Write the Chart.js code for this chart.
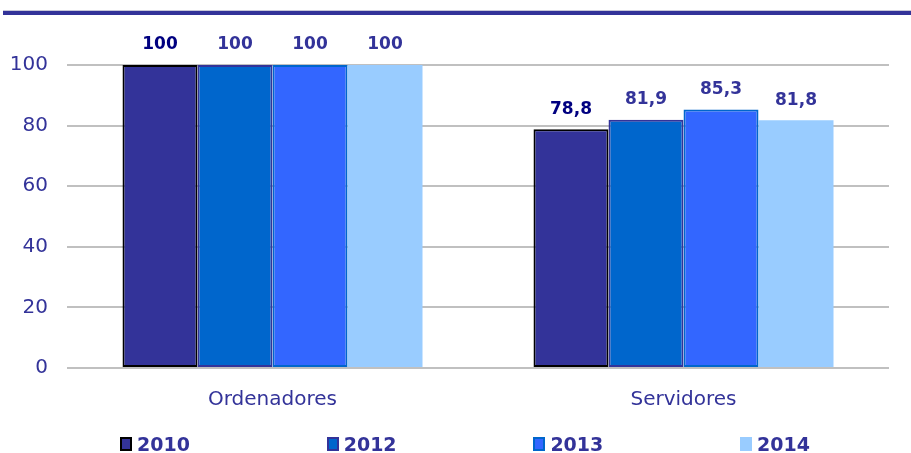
<!DOCTYPE html>
<html>
<head>
<meta charset="utf-8">
<script src="https://cdn.jsdelivr.net/npm/chart.js@4/dist/chart.umd.min.js"></script>
<style>
  body { margin: 0; background: #fff; }
  #wrap { position: relative; width: 911px; height: 453px; }
  #topline { position: absolute; left: 3px; right: 0; top: 10px; height: 4px; background: #333399; border-top: 1px solid #c8c8d8; }
  #legend { position: absolute; left: 0; top: 433px; width: 911px; height: 20px; }
  .item { position: absolute; top: 0; display: flex; align-items: center; font: bold 19px "DejaVu Sans", sans-serif; color: #333399; }
  .box { width: 12px; height: 14px; margin-right: 5px; box-sizing: border-box; border: 2px solid; }
</style>
</head>
<body>
<div id="wrap">
  <div id="topline"></div>
  <canvas id="chart" width="911" height="453"></canvas>
  <div id="legend"></div>
</div>
<script>
const categories = ['Ordenadores', 'Servidores']
const years = ['2010', '2012', '2013', '2014']
const v2010 = [100, 78.8]
const v2012 = [100, 81.9]
const v2013 = [100, 85.3]
const v2014 = [100, 81.8]
const yTicks = [0, 20, 40, 60, 80, 100]

const fills = ['#333399', '#0066CC', '#3366FF', '#99CCFF']
const borders = ['#000000', '#333399', '#0066CC', '#99CCFF']
const labelColors = ['#000080', '#333399', '#333399', '#333399']
const series = [v2010, v2012, v2013, v2014]
const font = '"DejaVu Sans", sans-serif'

const valueLabels = {
    id: 'valueLabels',
    afterDatasetsDraw(chart) {
        const ctx = chart.ctx
        ctx.save()
        ctx.font = 'bold 17px ' + font
        ctx.textAlign = 'center'
        ctx.textBaseline = 'middle'
        chart.data.datasets.forEach((ds, i) => {
            chart.getDatasetMeta(i).data.forEach((bar, j) => {
                ctx.fillStyle = labelColors[i]
                ctx.fillText(String(ds.data[j]).replace('.', ','), bar.x, bar.y - 20)
            })
        })
        ctx.restore()
    }
}

new Chart(document.getElementById('chart'), {
    type: 'bar',
    data: {
        labels: categories,
        datasets: years.map((y, i) => ({
            label: y,
            data: series[i],
            backgroundColor: fills[i],
            borderColor: borders[i],
            borderWidth: i === 3 ? 0 : 2,
            borderSkipped: false,
            barPercentage: 1,
            categoryPercentage: 0.73
        }))
    },
    options: {
        responsive: false,
        animation: false,
        layout: { padding: { top: 65, right: 22, bottom: 25, left: 0 } },
        plugins: { legend: { display: false }, tooltip: { enabled: false } },
        scales: {
            x: {
                grid: { display: false, drawTicks: false },
                border: { display: false },
                ticks: { color: '#333399', font: { family: font, size: 20 }, padding: 20 },
                afterFit: s => { s.height = 60 }
            },
            y: {
                min: 0,
                max: 100,
                afterBuildTicks: s => { s.ticks = yTicks.map(v => ({ value: v })) },
                grid: { color: '#C0C0C0', lineWidth: 2, drawTicks: false },
                border: { display: false },
                ticks: { color: '#333399', font: { family: font, size: 20 }, padding: 19 },
                afterFit: s => { s.width = 67 }
            }
        }
    },
    plugins: [valueLabels]
})

const legend = document.getElementById('legend')
years.forEach((y, i) => {
    const item = document.createElement('div')
    item.className = 'item'
    item.style.left = (120 + i * 206.7) + 'px'
    const box = document.createElement('span')
    box.className = 'box'
    box.style.background = fills[i]
    box.style.borderColor = borders[i]
    item.appendChild(box)
    item.appendChild(document.createTextNode(y))
    legend.appendChild(item)
})
</script>
</body>
</html>
